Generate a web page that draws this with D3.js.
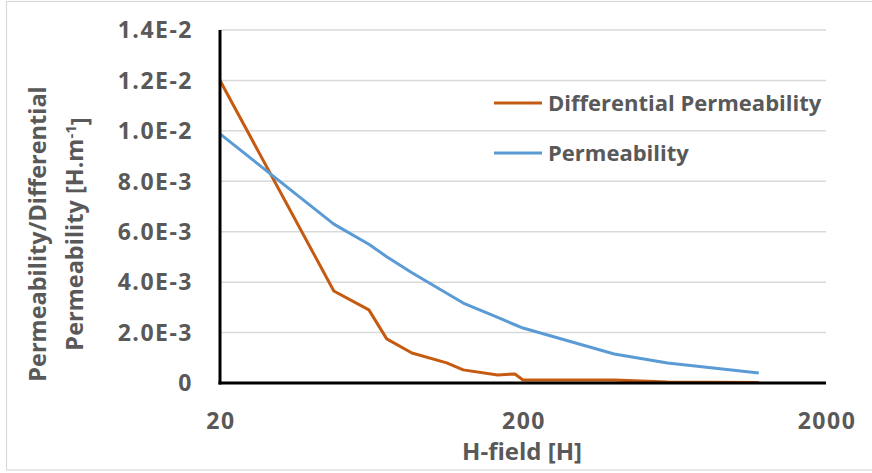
<!DOCTYPE html>
<html><head><meta charset="utf-8">
<script src="https://cdn.jsdelivr.net/npm/d3@7"></script>
<style>
body{margin:0;background:#fff;}
text{font-family:"Open Sans",sans-serif;font-weight:bold;fill:#595959;}
</style></head>
<body><svg id="c" width="872" height="473"></svg>
<script>
const hField = [20, 47.5, 62, 71, 86, 112, 127, 165, 188, 200, 400, 600, 1200];
const diffPerm = [0.0120, 0.00365, 0.0029, 0.00175, 0.00119, 0.00080, 0.00052, 0.00032, 0.00036, 0.00012, 0.00012, 0.00004, 0.00002];
const perm = [0.00988, 0.00630, 0.00550, 0.00501, 0.00437, 0.00356, 0.00317, 0.00260, 0.00231, 0.00218, 0.00115, 0.00079, 0.00040];
const yTicks = [0, 0.002, 0.004, 0.006, 0.008, 0.010, 0.012, 0.014];
const yTickLabels = ["0", "2.0E-3", "4.0E-3", "6.0E-3", "8.0E-3", "1.0E-2", "1.2E-2", "1.4E-2"];
const xTicks = [20, 200, 2000];
const seriesNames = ["Differential Permeability", "Permeability"];
const colors = ["#c55a11", "#5b9bd5"];

const svg = d3.select("#c");
svg.append("rect").attr("x",6.5).attr("y",1.5).attr("width",900).attr("height",468.5)
  .attr("fill","none").attr("stroke","#d9d9d9").attr("stroke-width",1.2);

const L=220, R=826, T=30, B=383;
const x = d3.scaleLog().domain([20,2000]).range([L,R]);
const y = d3.scaleLinear().domain([0,0.014]).range([B,T]);

// gridlines
svg.append("g").selectAll("line").data(yTicks.slice(1)).join("line")
  .attr("x1",L).attr("x2",R).attr("y1",d=>y(d)).attr("y2",d=>y(d))
  .attr("stroke","#d9d9d9").attr("stroke-width",1.5);

// y tick labels
svg.append("g").selectAll("text").data(yTicks).join("text")
  .attr("x",193).attr("y",d=>y(d)).attr("dy","0.36em").attr("text-anchor","end")
  .style("font-size","23px").style("letter-spacing","1.5px").text((d,i)=>yTickLabels[i]);

// x tick labels
svg.append("g").selectAll("text").data(xTicks).join("text")
  .attr("x",d=>x(d)+1).attr("y",421).attr("dy","0.36em").attr("text-anchor","middle")
  .style("font-size","23px").style("letter-spacing","1.5px").text(d=>d);

// lines
const line = d3.line().x((d,i)=>x(hField[i])).y(d=>y(d));
[diffPerm, perm].forEach((s,k)=>{
  svg.append("path").datum(s).attr("d",line).attr("fill","none")
    .attr("stroke",colors[k]).attr("stroke-width",3).attr("stroke-linejoin","round");
});

// axes
svg.append("line").attr("x1",L).attr("x2",L).attr("y1",T).attr("y2",B+1.5).attr("stroke","#000").attr("stroke-width",3);
svg.append("line").attr("x1",L-1.5).attr("x2",R).attr("y1",B).attr("y2",B).attr("stroke","#000").attr("stroke-width",3);

// axis titles
svg.append("text").attr("x",522).attr("y",451).attr("dy","0.36em").attr("text-anchor","middle")
  .style("font-size","24px").text("H-field [H]");
const yt = svg.append("g").attr("transform","translate(38,234) rotate(-90)");
yt.append("text").attr("x",0).attr("y",0).attr("dy","0.36em").attr("text-anchor","middle")
  .style("font-size","23.5px").text("Permeability/Differential");
const t2 = yt.append("text").attr("x",0).attr("y",37).attr("dy","0.36em").attr("text-anchor","middle")
  .style("font-size","23.5px");
t2.append("tspan").text("Permeability [H.m");
t2.append("tspan").attr("dy","-0.5em").style("font-size","15px").text("-1");
t2.append("tspan").attr("dy","0.5em").text("]");

// legend
const lg = svg.append("g");
seriesNames.forEach((n,k)=>{
  const yy = 103 + k*50;
  lg.append("line").attr("x1",494).attr("x2",542).attr("y1",yy).attr("y2",yy)
    .attr("stroke",colors[k]).attr("stroke-width",3);
  lg.append("text").attr("x",548).attr("y",yy).attr("dy","0.36em").style("font-size","22px").text(n);
});
</script></body></html>
